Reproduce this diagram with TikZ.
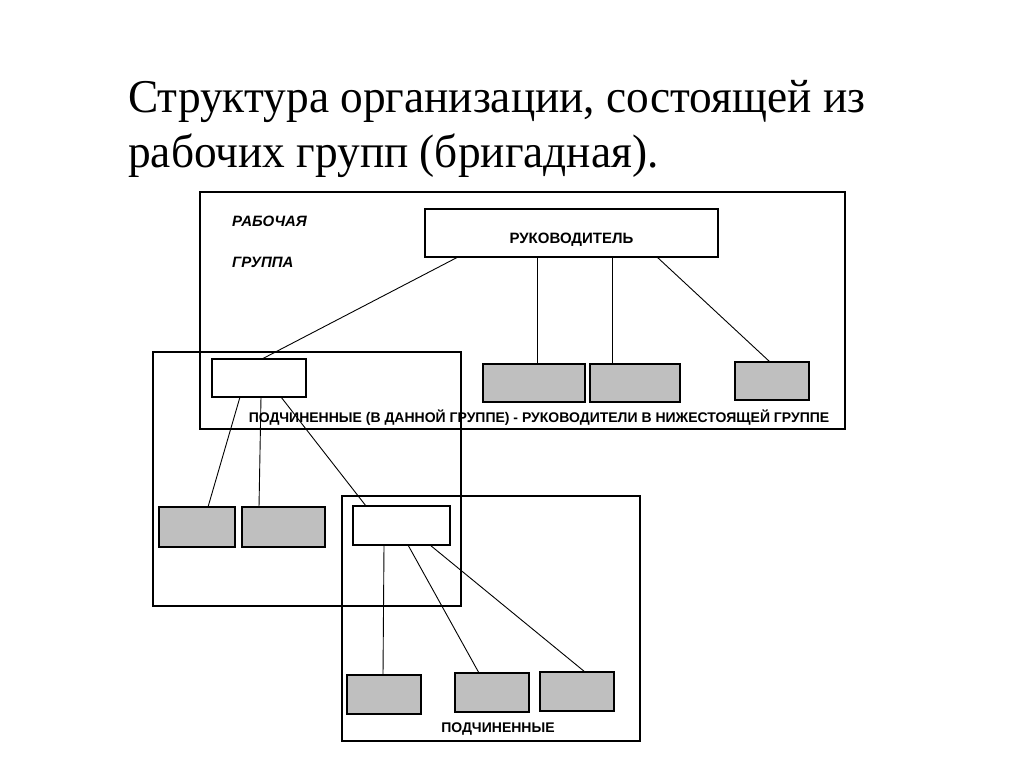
\documentclass[tikz,border=0pt]{standalone}
\usepackage{fontspec}
\setmainfont{Liberation Serif}
\newfontfamily\arialfont{Liberation Sans}
\usetikzlibrary{positioning}

\tikzset{
  frame/.style={black, line width=2.2pt},
  wbox/.style={draw, line width=2.2pt, fill=white, anchor=north west, inner sep=0, outer sep=0},
  gbox/.style={wbox, fill=gray!50},
  link/.style={black, line width=0.9pt},
  lbl/.style={font=\arialfont\bfseries\fontsize{14}{16}\selectfont, inner sep=0},
  ttl/.style={anchor=base west, inner sep=0, font=\fontsize{47}{55}\selectfont}
}

\begin{document}
\begin{tikzpicture}[x=1pt, y=-1pt]
\useasboundingbox (0,0) rectangle (1024,767);
\fill[white] (0,0) rectangle (1024,767);

\node[ttl] (title1) at (128,113) {\scalebox{0.965}[1]{Структура организации, состоящей из}};
\node[ttl] (title2) at (128,168) {\scalebox{0.965}[1]{рабочих групп (бригадная).}};

% group frames
\draw[frame] (200,192) rectangle (845,429);
\draw[frame] (153,352) rectangle (461,606);
\draw[frame] (342,496) rectangle (640,741);

\node[lbl, font=\arialfont\bfseries\itshape\fontsize{15}{17}\selectfont, anchor=west] (wg1) at (232,221) {РАБОЧАЯ};
\node[lbl, font=\arialfont\bfseries\itshape\fontsize{15}{17}\selectfont, anchor=west] (wg2) at (232,262) {ГРУППА};

\node[wbox, minimum width=293pt, minimum height=48pt, font=\arialfont\bfseries\fontsize{15}{17}\selectfont, text height=21pt, text depth=0pt] (boss) at (425,209) {РУКОВОДИТЕЛЬ};
\node[wbox, minimum width=94pt, minimum height=38pt] (subA) at (212,359) {};
\node[wbox, minimum width=97pt, minimum height=39pt] (subB) at (353,506) {};

\node[gbox, minimum width=102pt, minimum height=38pt] (g1) at (483,364) {};
\node[gbox, minimum width=90pt, minimum height=38pt] (g2) at (590,364) {};
\node[gbox, minimum width=74pt, minimum height=38pt] (g3) at (735,362) {};
\node[gbox, minimum width=76pt, minimum height=40pt] (g4) at (159,507) {};
\node[gbox, minimum width=83pt, minimum height=40pt] (g5) at (242,507) {};
\node[gbox, minimum width=74pt, minimum height=39pt] (g6) at (347,675) {};
\node[gbox, minimum width=74pt, minimum height=39pt] (g7) at (455,673) {};
\node[gbox, minimum width=74pt, minimum height=39pt] (g8) at (540,672) {};

\node[lbl] (note1) at (539,418) {ПОДЧИНЕННЫЕ (В ДАННОЙ ГРУППЕ) - РУКОВОДИТЕЛИ В НИЖЕСТОЯЩЕЙ ГРУППЕ};
\node[lbl] (note2) at (498,729) {ПОДЧИНЕННЫЕ};

% connectors
\draw[link] ([xshift=33pt]boss.south west) -- ([xshift=50pt]subA.north west);
\draw[link] ([xshift=112pt]boss.south west) -- ([xshift=54pt]g1.north west);
\draw[link] ([xshift=187pt]boss.south west) -- ([xshift=22pt]g2.north west);
\draw[link] ([xshift=232pt]boss.south west) -- ([xshift=35pt]g3.north west);
\draw[link] ([xshift=28pt]subA.south west) -- ([xshift=49pt]g4.north west);
\draw[link] ([xshift=49pt]subA.south west) -- ([xshift=17pt]g5.north west);
\draw[link] ([xshift=69pt]subA.south west) -- ([xshift=13pt]subB.north west);
\draw[link] ([xshift=31pt]subB.south west) -- ([xshift=36pt]g6.north west);
\draw[link] ([xshift=55pt]subB.south west) -- ([xshift=24pt]g7.north west);
\draw[link] ([xshift=77pt]subB.south west) -- ([xshift=45pt]g8.north west);
\end{tikzpicture}
\end{document}
